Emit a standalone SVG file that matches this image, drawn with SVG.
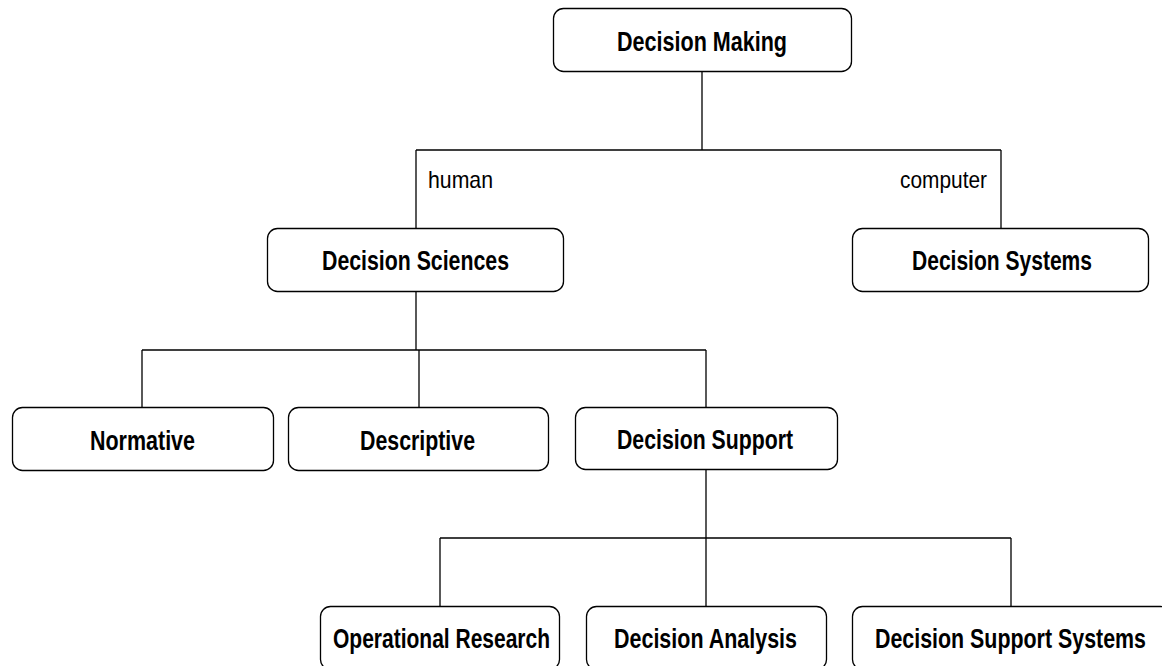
<svg xmlns="http://www.w3.org/2000/svg" width="1162" height="666" viewBox="0 0 1162 666">
<style>
.box{fill:#fff;stroke:#000;stroke-width:1.3}
.lbl{font-family:"Liberation Sans",Arial,sans-serif;font-weight:bold;font-size:27px;text-anchor:middle;fill:#000}
.edge{font-family:"Liberation Sans",Arial,sans-serif;font-size:24px;fill:#000}
.con{fill:none;stroke:#000;stroke-width:1.3}
</style>
<rect width="1162" height="666" fill="#fff"/>
<g id="connectors">
<path class="con" d="M702 72V150M416 150H1001M416 150V228M1001 150V228"/>
<path class="con" d="M416 292V350M142 350H706M142 350V407M419 350V407M706 350V407"/>
<path class="con" d="M706 470V538M440 538H1011M440 538V606M706 538V606M1011 538V606"/>
<text class="edge" x="428" y="188" textLength="65" lengthAdjust="spacingAndGlyphs">human</text>
<text class="edge" x="900" y="188" textLength="87" lengthAdjust="spacingAndGlyphs">computer</text>
</g>
<g id="n-making"><rect class="box" x="553.5" y="8.5" width="298" height="63" rx="10"/><text class="lbl" x="702" y="51" textLength="170" lengthAdjust="spacingAndGlyphs">Decision Making</text></g>
<g id="n-sciences"><rect class="box" x="267.5" y="228.5" width="296" height="63" rx="10"/><text class="lbl" x="415.5" y="270" textLength="187" lengthAdjust="spacingAndGlyphs">Decision Sciences</text></g>
<g id="n-systems"><rect class="box" x="852.5" y="228.5" width="296" height="63" rx="10"/><text class="lbl" x="1002" y="270" textLength="180" lengthAdjust="spacingAndGlyphs">Decision Systems</text></g>
<g id="n-normative"><rect class="box" x="12.5" y="407.5" width="261" height="63" rx="10"/><text class="lbl" x="142.5" y="450" textLength="105" lengthAdjust="spacingAndGlyphs">Normative</text></g>
<g id="n-descriptive"><rect class="box" x="288.5" y="407.5" width="260" height="63" rx="10"/><text class="lbl" x="417.5" y="450" textLength="115" lengthAdjust="spacingAndGlyphs">Descriptive</text></g>
<g id="n-support"><rect class="box" x="575.5" y="407.5" width="262" height="62" rx="10"/><text class="lbl" x="705" y="449" textLength="176" lengthAdjust="spacingAndGlyphs">Decision Support</text></g>
<g id="n-or"><rect class="box" x="320.5" y="606.5" width="239" height="63" rx="10"/><text class="lbl" x="441.5" y="648" textLength="217" lengthAdjust="spacingAndGlyphs">Operational Research</text></g>
<g id="n-da"><rect class="box" x="586.5" y="606.5" width="240" height="63" rx="10"/><text class="lbl" x="705.5" y="648" textLength="183" lengthAdjust="spacingAndGlyphs">Decision Analysis</text></g>
<g id="n-dss"><rect class="box" x="852.5" y="606.5" width="318" height="63" rx="10"/><text class="lbl" x="1010.5" y="648" textLength="271" lengthAdjust="spacingAndGlyphs">Decision Support Systems</text></g>
</svg>
